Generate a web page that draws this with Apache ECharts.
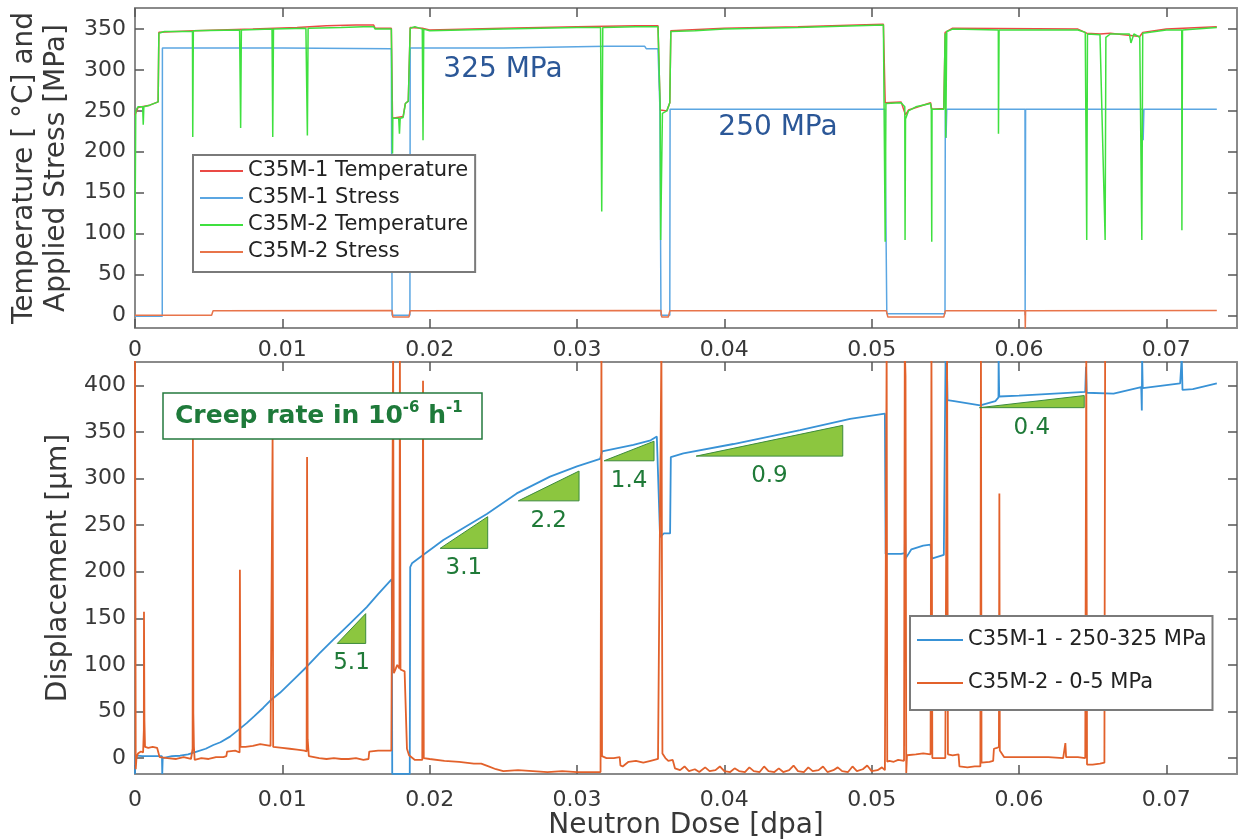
<!DOCTYPE html>
<html>
<head>
<meta charset="utf-8">
<style>
  html, body { margin: 0; padding: 0; background: #fff; }
  #chart { width: 1239px; height: 839px; }
</style>
<script src="https://cdn.jsdelivr.net/npm/echarts@6/dist/echarts.min.js"></script>
</head>
<body>
<div id="chart"></div>
<script>
// tick labels
const doseTicks = [0, 0.01, 0.02, 0.03, 0.04, 0.05, 0.06, 0.07];
const tempTicks = [0, 50, 100, 150, 200, 250, 300, 350];
const dispTicks = [0, 50, 100, 150, 200, 250, 300, 350, 400];

// top panel: [dose, value]
const c35m1Temp = [
  [0, 245], [0.0002, 254], [0.0010, 257], [0.00157, 261], [0.00162, 346], [0.0040, 348], [0.0080, 350],
  [0.0110, 352], [0.0130, 354], [0.0150, 355], [0.0162, 355], [0.0163, 351], [0.0174, 351], [0.01748, 241],
  [0.0182, 243], [0.01835, 259], [0.01855, 262], [0.01868, 352], [0.0195, 351], [0.0200, 349], [0.0250, 351],
  [0.0300, 353], [0.0340, 354], [0.0355, 354], [0.03565, 251], [0.0361, 250], [0.0363, 260], [0.03637, 348],
  [0.0400, 351], [0.0450, 353], [0.0490, 355], [0.0508, 356], [0.05092, 260], [0.0520, 261], [0.0523, 245],
  [0.0525, 251], [0.0540, 260], [0.05408, 252], [0.0549, 253], [0.05499, 346], [0.0555, 351], [0.0640, 350],
  [0.0646, 345], [0.0655, 344], [0.0662, 345], [0.0682, 341], [0.0684, 346], [0.0700, 350], [0.07343, 353]
];
const c35m1Stress = [
  [0, -1], [0.00185, -1], [0.00186, 327], [0.0100, 327], [0.0174, 326], [0.01745, 0], [0.01866, 0],
  [0.01868, 327], [0.0250, 327], [0.0320, 329], [0.0346, 329], [0.0347, 326], [0.0355, 326], [0.03563, 253],
  [0.0357, 0], [0.0363, 0], [0.03632, 252], [0.0450, 252], [0.0509, 252], [0.05103, 2], [0.05498, 2],
  [0.0550, 252], [0.05505, 217], [0.0551, 252], [0.06041, 252], [0.06042, 0], [0.06045, 252], [0.06842, 252],
  [0.06843, 214], [0.06848, 252], [0.07343, 252]
];
const c35m2Temp = [
  [0, 92], [0.00005, 250], [0.0002, 255], [0.00052, 255], [0.00056, 233], [0.0006, 255], [0.0010, 257],
  [0.00157, 261], [0.00162, 345], [0.0020, 347], [0.0039, 347], [0.00392, 218], [0.00396, 348], [0.0071, 349],
  [0.00717, 229], [0.00722, 349], [0.0093, 350], [0.00935, 218], [0.0094, 350], [0.0116, 351], [0.0117, 220],
  [0.01175, 351], [0.0140, 352], [0.0155, 353], [0.0162, 353], [0.0163, 350], [0.0174, 350], [0.01748, 198],
  [0.0175, 241], [0.0179, 241], [0.01795, 222], [0.0180, 241], [0.0182, 242], [0.01835, 259], [0.01855, 262],
  [0.01868, 351], [0.0190, 353], [0.0195, 350], [0.01955, 214], [0.0196, 350], [0.0200, 348], [0.0250, 350],
  [0.0300, 352], [0.0316, 352], [0.03168, 127], [0.03175, 352], [0.0340, 353], [0.0355, 353], [0.03565, 251],
  [0.03568, 92], [0.0358, 247], [0.0361, 250], [0.0363, 260], [0.03637, 347], [0.0380, 348], [0.0400, 350],
  [0.0450, 352], [0.0490, 354], [0.0508, 355], [0.05092, 90], [0.05097, 259], [0.0520, 260], [0.05225, 255],
  [0.05227, 92], [0.0523, 240], [0.0525, 250], [0.0530, 255], [0.0540, 259], [0.05405, 252], [0.05408, 90],
  [0.0541, 252], [0.0549, 252], [0.05499, 345], [0.05503, 217], [0.0551, 347], [0.0555, 350], [0.0586, 349],
  [0.05861, 222], [0.05865, 349], [0.0640, 349], [0.0645, 346], [0.0646, 92], [0.06465, 344], [0.0655, 343],
  [0.06585, 92], [0.0659, 340], [0.0662, 344], [0.0675, 344], [0.0676, 333], [0.0678, 344], [0.0682, 340],
  [0.06834, 92], [0.0684, 345], [0.0700, 349], [0.07105, 349], [0.07106, 104], [0.0711, 349], [0.07343, 352]
];
const c35m2Stress = [
  [0, 0], [0.0052, 0], [0.0053, 5.5], [0.01745, 6], [0.0175, -2], [0.0186, -2], [0.01867, 5.5], [0.0357, 6],
  [0.03575, -2], [0.0362, -2], [0.0363, 5.5], [0.0510, 5.5], [0.0511, -2], [0.0549, -2], [0.0550, 5.5],
  [0.06041, 5.5], [0.06043, -16], [0.06045, 5.5], [0.07343, 6]
];

// bottom panel: [dose, displacement]
const c35m1Disp = [
  [0, -17], [0.00002, 3], [0.0005, 2], [0.0010, 2], [0.0015, 2], [0.00183, 2], [0.00185, -17], [0.00188, 0],
  [0.00192, 1], [0.0025, 2], [0.00306, 2.5], [0.0036, 4], [0.00419, 7], [0.0048, 10], [0.00532, 14], [0.0058, 17],
  [0.00645, 23], [0.0070, 30], [0.00758, 37.5], [0.0081, 45], [0.00871, 54], [0.0092, 62], [0.00984, 70],
  [0.01075, 84], [0.01166, 98], [0.0125, 112], [0.01346, 127], [0.0145, 143], [0.01573, 162], [0.0165, 176],
  [0.01743, 192], [0.01746, -17], [0.01865, -17], [0.01868, 205], [0.0188, 209], [0.02093, 234], [0.02388, 262],
  [0.02591, 284], [0.02817, 302], [0.0300, 313], [0.03157, 321], [0.0316, 322], [0.0317, 329], [0.03383, 336],
  [0.0350, 341], [0.03542, 345], [0.03555, 345], [0.03564, 237], [0.0359, 241], [0.03632, 241], [0.03637, 323],
  [0.03722, 327], [0.04062, 337], [0.04515, 352], [0.04854, 364], [0.0509, 369.6], [0.05095, 219], [0.0520, 219],
  [0.05225, 220], [0.05227, 253], [0.0523, 214], [0.0527, 224], [0.0535, 228], [0.0540, 229], [0.05408, 214],
  [0.0549, 218], [0.05499, 382], [0.05502, 430], [0.05505, 384], [0.0551, 430], [0.05515, 384], [0.0556, 383],
  [0.05737, 378.5], [0.0584, 383], [0.05861, 387], [0.05862, 430], [0.05866, 388], [0.0600, 389], [0.0645, 393],
  [0.06455, 420], [0.0646, 392], [0.06642, 391], [0.0683, 398], [0.06834, 373], [0.06836, 430], [0.0684, 397],
  [0.07094, 402], [0.07105, 430], [0.0711, 395], [0.0718, 396], [0.07343, 402]
];
const c35m2Disp = [
  [0, 440], [0.00005, -12], [0.0001, 0], [0.0002, 5], [0.0004, 7], [0.00055, 6], [0.0006, 30], [0.00061, 157],
  [0.00064, 40], [0.00068, 12], [0.0009, 11], [0.0012, 12], [0.0015, 11], [0.00163, 10], [0.00167, 1],
  [0.0022, 0], [0.0028, -1], [0.0033, 1], [0.0038, -1], [0.00391, 10], [0.00393, 345], [0.00396, 48],
  [0.0040, 12], [0.00405, -2], [0.0045, 0], [0.0050, -1], [0.0055, 1], [0.0060, 1], [0.0062, 2], [0.00625, 7],
  [0.0068, 8], [0.0071, 6], [0.00712, 202], [0.00716, 12], [0.0075, 12], [0.0080, 13], [0.0085, 15],
  [0.0089, 14], [0.0092, 13], [0.00934, 344], [0.00938, 12], [0.0100, 11], [0.0105, 10], [0.0110, 9],
  [0.0115, 8], [0.01165, 7], [0.01168, 323], [0.01172, 20], [0.0118, 2], [0.0125, 0], [0.0130, -1],
  [0.0135, 0], [0.0140, -1], [0.0145, -1], [0.0150, 0], [0.0155, -2], [0.01585, -1], [0.0159, 7],
  [0.0165, 8], [0.0170, 8], [0.0174, 8], [0.01752, 440], [0.01757, 91], [0.0177, 96], [0.0178, 100],
  [0.01795, 96], [0.01798, 440], [0.01802, 95], [0.0183, 93], [0.01842, 92], [0.01846, 10], [0.0186, 3],
  [0.0190, -2], [0.0195, -2], [0.01955, 405], [0.0196, 0], [0.0200, -1], [0.0210, -3], [0.0220, -4],
  [0.0230, -6], [0.0235, -6], [0.0240, -9], [0.0245, -12], [0.0250, -14], [0.0260, -13], [0.0270, -14],
  [0.0280, -15], [0.0290, -14], [0.0300, -15], [0.0316, -15], [0.03166, 440], [0.0317, 2], [0.0320, 0],
  [0.0325, 0], [0.0329, 1], [0.03295, -8], [0.0331, -9], [0.0335, -4], [0.0340, -3], [0.0345, -5],
  [0.0350, -3], [0.0355, -1], [0.03573, 440], [0.0358, 5], [0.0360, 0], [0.0362, -3], [0.0365, -2],
  [0.03665, -11], [0.0370, -13], [0.0373, -9], [0.0376, -14], [0.0380, -12], [0.0383, -15], [0.0387, -10],
  [0.0390, -14], [0.0394, -13], [0.0397, -9], [0.0400, -14], [0.0404, -15], [0.0407, -11], [0.0410, -14],
  [0.0414, -15], [0.0417, -10], [0.0420, -14], [0.0424, -15], [0.0427, -9], [0.0430, -14], [0.0434, -15],
  [0.0437, -11], [0.0440, -15], [0.0444, -13], [0.0447, -8], [0.0450, -14], [0.0454, -15], [0.0457, -10],
  [0.0460, -14], [0.0464, -13], [0.0467, -9], [0.0470, -15], [0.0474, -13], [0.0477, -10], [0.0480, -14],
  [0.0484, -15], [0.0487, -9], [0.0490, -14], [0.0494, -12], [0.0497, -8], [0.0500, -14], [0.0504, -13],
  [0.0507, -10], [0.0509, -13], [0.05102, 440], [0.05106, -4], [0.0512, -3], [0.0515, -4], [0.0518, -2],
  [0.0522, -3], [0.05225, 440], [0.0523, 410], [0.05235, -16], [0.0524, 3], [0.0530, 4], [0.0535, 5],
  [0.0540, 4], [0.05406, 440], [0.05412, 0], [0.0545, 0], [0.0550, 0], [0.05512, 440], [0.05518, 4],
  [0.0555, 3], [0.0559, 4], [0.05596, -9], [0.0565, -10], [0.0570, -9], [0.05738, -9], [0.05742, 440],
  [0.05746, -5], [0.0580, -4], [0.05825, -3], [0.0583, 10], [0.0585, 11], [0.05864, 12], [0.05867, 284],
  [0.0587, 8], [0.0590, 1], [0.0600, 1], [0.0610, 1], [0.0620, 1], [0.0630, 0], [0.06315, 16], [0.0632, 1],
  [0.0640, 1], [0.0645, 0], [0.06457, 440], [0.06462, -7], [0.0650, -7], [0.0655, -6], [0.0658, -5],
  [0.06585, 440]
];

// creep rate triangles (hypotenuse start / end, in dose and displacement)
const creepLabels = ['5.1', '3.1', '2.2', '1.4', '0.9', '0.4'];
const creepStart = [[0.01373, 123], [0.02071, 225], [0.02602, 276], [0.03184, 319], [0.03809, 324], [0.05732, 376]];
const creepEnd = [[0.01566, 155], [0.02394, 259], [0.03014, 308], [0.03523, 340], [0.04804, 357], [0.06443, 389]];

const FONT = '"DejaVu Sans", sans-serif';
const TEXT = '#383838';
const BOX = '#8a8a8a';

function xAxisDef(gridIndex, pos, labels, margin, extra) {
  return Object.assign({
    type: 'value', gridIndex: gridIndex, position: pos, min: 0, max: 0.0748,
    axisLine: { show: true, onZero: false, lineStyle: { color: BOX, width: 2 } },
    axisTick: { show: true, inside: true, length: 9, customValues: doseTicks, lineStyle: { color: '#555', width: 1.5 } },
    axisLabel: {
      show: labels, customValues: doseTicks, margin: margin, color: TEXT, fontSize: 22, fontFamily: FONT,
      formatter: v => (v === 0 ? '0' : String(+v.toFixed(2)))
    },
    splitLine: { show: false }
  }, extra || {});
}
function yAxisDef(gridIndex, pos, min, max, ticks, labels, extra) {
  return Object.assign({
    type: 'value', gridIndex: gridIndex, position: pos, min: min, max: max,
    axisLine: { show: true, onZero: false, lineStyle: { color: BOX, width: 2 } },
    axisTick: { show: true, inside: true, length: 9, customValues: ticks, lineStyle: { color: '#555', width: 1.5 } },
    axisLabel: { show: labels, customValues: ticks, margin: 9, color: TEXT, fontSize: 22, fontFamily: FONT },
    splitLine: { show: false }
  }, extra || {});
}
function lineSeries(name, data, color, xi, yi, width) {
  return {
    name: name, type: 'line', data: data, xAxisIndex: xi, yAxisIndex: yi,
    symbol: 'none', showSymbol: false, clip: true, silent: true,
    lineStyle: { color: color, width: width || 1.5 }, itemStyle: { color: color }
  };
}

const chart = echarts.init(document.getElementById('chart'), null, { renderer: 'canvas' });
chart.setOption({
  animation: false,
  backgroundColor: '#fff',
  grid: [
    { left: 135, right: 2, top: 8, height: 320, outerBoundsMode: 'none' },
    { left: 135, right: 2, top: 362, height: 412, outerBoundsMode: 'none' }
  ],
  xAxis: [
    xAxisDef(0, 'bottom', true, 11),
    xAxisDef(0, 'top', false, 6),
    xAxisDef(1, 'bottom', true, 15, {
      name: 'Neutron Dose [dpa]', nameLocation: 'middle', nameGap: 38,
      nameTextStyle: { fontSize: 28, color: TEXT, fontFamily: FONT }
    }),
    xAxisDef(1, 'top', false, 6)
  ],
  yAxis: [
    yAxisDef(0, 'left', -15.5, 375.8, tempTicks, true, {
      name: 'Temperature [ °C] and\nApplied Stress [MPa]', nameLocation: 'middle', nameGap: 51,
      nameTextStyle: { fontSize: 28, lineHeight: 32, color: TEXT, fontFamily: FONT }
    }),
    yAxisDef(0, 'right', -15.5, 375.8, tempTicks, false),
    yAxisDef(1, 'left', -17.1, 425, dispTicks, true, {
      name: 'Displacement [μm]', nameLocation: 'middle', nameGap: 52,
      nameTextStyle: { fontSize: 28, color: TEXT, fontFamily: FONT }
    }),
    yAxisDef(1, 'right', -17.1, 425, dispTicks, false)
  ],
  legend: [
    {
      data: ['C35M-1 Temperature', 'C35M-1 Stress', 'C35M-2 Temperature', 'C35M-2 Stress'],
      orient: 'vertical', left: 193, top: 155, icon: 'rect', itemWidth: 43, itemHeight: 2, itemGap: 3,
      padding: [4, 7, 8, 7], backgroundColor: '#fff', borderColor: '#7a7a7a', borderWidth: 2,
      textStyle: { fontSize: 21, lineHeight: 24, color: '#222', fontFamily: FONT }, selectedMode: false
    },
    {
      data: ['C35M-1 - 250-325 MPa', 'C35M-2 - 0-5 MPa'],
      orient: 'vertical', left: 910, top: 616, icon: 'rect', itemWidth: 46, itemHeight: 2, itemGap: 19,
      padding: [12, 6, 15, 7], backgroundColor: '#fff', borderColor: '#7a7a7a', borderWidth: 2,
      textStyle: { fontSize: 21, lineHeight: 24, color: '#222', fontFamily: FONT }, selectedMode: false
    }
  ],
  series: [
    lineSeries('C35M-1 Temperature', c35m1Temp, '#ea4a45', 0, 0),
    lineSeries('C35M-1 Stress', c35m1Stress, '#5ba6e2', 0, 0),
    lineSeries('C35M-2 Temperature', c35m2Temp, '#3fe03f', 0, 0),
    lineSeries('C35M-2 Stress', c35m2Stress, '#e8744a', 0, 0),
    lineSeries('C35M-1 - 250-325 MPa', c35m1Disp, '#3892d6', 2, 2, 1.8),
    lineSeries('C35M-2 - 0-5 MPa', c35m2Disp, '#e2612b', 2, 2, 1.8),
    {
      name: 'creep', type: 'custom', xAxisIndex: 2, yAxisIndex: 2, silent: true, z: 5,
      data: creepStart.map((s, i) => [s[0], s[1], creepEnd[i][0], creepEnd[i][1]]),
      renderItem: function (params, api) {
        const p0 = api.coord([api.value(0), api.value(1)]);
        const p1 = api.coord([api.value(2), api.value(3)]);
        return {
          type: 'group',
          children: [
            {
              type: 'polygon',
              shape: { points: [p0, [p1[0], p0[1]], p1] },
              style: { fill: '#8cc63f', stroke: '#3d8b3d', lineWidth: 1 }
            },
            {
              type: 'text',
              style: {
                text: creepLabels[params.dataIndex], x: (p0[0] + p1[0]) / 2, y: p0[1] + 20,
                align: 'center', verticalAlign: 'middle', fill: '#1f7a38', font: '23px ' + FONT
              }
            }
          ]
        };
      }
    }
  ],
  graphic: [
    {
      type: 'text', x: 503, y: 70,
      style: { text: '325 MPa', fill: '#2b5797', font: '28px ' + FONT, align: 'center', verticalAlign: 'middle' }
    },
    {
      type: 'text', x: 778, y: 128,
      style: { text: '250 MPa', fill: '#2b5797', font: '28px ' + FONT, align: 'center', verticalAlign: 'middle' }
    },
    {
      type: 'rect', shape: { x: 163, y: 393, width: 319, height: 46 },
      style: { fill: '#fff', stroke: '#247a3e', lineWidth: 1.5 }, z: 10
    },
    {
      type: 'text', x: 175, y: 416, z: 11,
      style: {
        text: '{a|Creep rate in 10}{b|-6}{a| h}{b|-1}', verticalAlign: 'middle',
        rich: {
          a: { fontSize: 25, fontWeight: 'bold', fill: '#1e7a3a', fontFamily: FONT, lineHeight: 30 },
          b: { fontSize: 15, fontWeight: 'bold', fill: '#1e7a3a', fontFamily: FONT, verticalAlign: 'top', lineHeight: 18 }
        }
      }
    }
  ]
});
</script>
</body>
</html>
